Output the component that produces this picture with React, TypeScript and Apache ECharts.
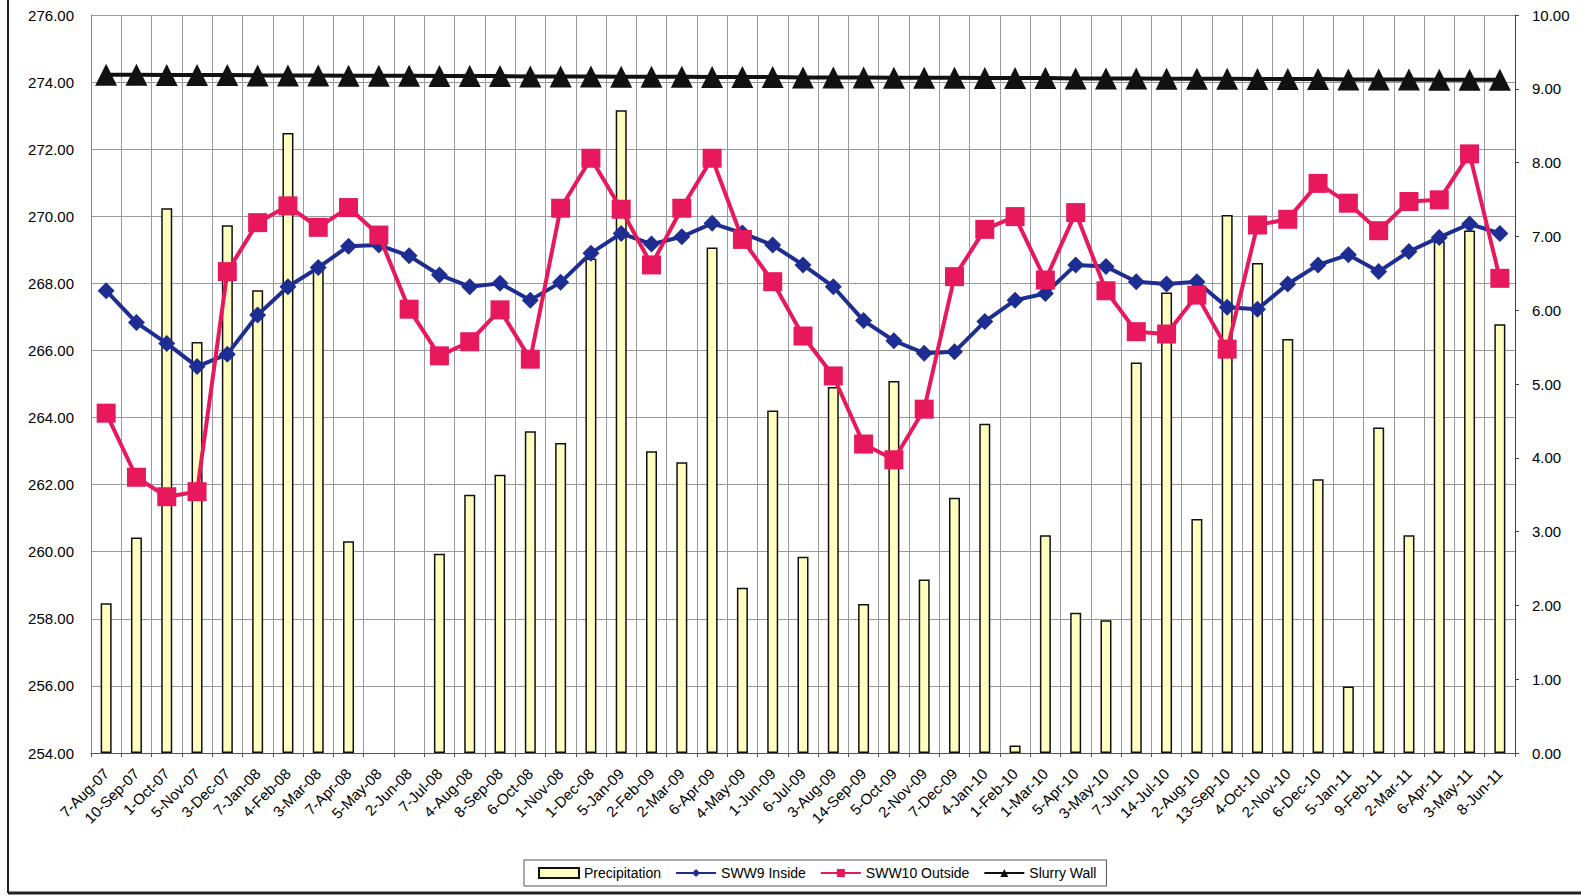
import React, { useEffect, useRef } from "react";
import * as echarts from "echarts";

const categories = [
  "7-Aug-07", "10-Sep-07", "1-Oct-07", "5-Nov-07", "3-Dec-07", "7-Jan-08", "4-Feb-08", "3-Mar-08",
  "7-Apr-08", "5-May-08", "2-Jun-08", "7-Jul-08", "4-Aug-08", "8-Sep-08", "6-Oct-08", "1-Nov-08",
  "1-Dec-08", "5-Jan-09", "2-Feb-09", "2-Mar-09", "6-Apr-09", "4-May-09", "1-Jun-09", "6-Jul-09",
  "3-Aug-09", "14-Sep-09", "5-Oct-09", "2-Nov-09", "7-Dec-09", "4-Jan-10", "1-Feb-10", "1-Mar-10",
  "5-Apr-10", "3-May-10", "7-Jun-10", "14-Jul-10", "2-Aug-10", "13-Sep-10", "4-Oct-10", "2-Nov-10",
  "6-Dec-10", "5-Jan-11", "9-Feb-11", "2-Mar-11", "6-Apr-11", "3-May-11", "8-Jun-11",
];

const precipitation = [
  2.03, 2.92, 7.38, 5.57, 7.15, 6.27, 8.4, 6.55,
  2.87, null, null, 2.7, 3.5, 3.77, 4.36, 4.2,
  6.7, 8.71, 4.09, 3.94, 6.85, 2.24, 4.64, 2.66,
  4.96, 2.02, 5.04, 2.35, 3.46, 4.46, 0.1, 2.95,
  1.9, 1.8, 5.29, 6.24, 3.17, 7.29, 6.64, 5.61,
  3.71, 0.9, 4.41, 2.95, 6.93, 7.08, 5.81,
];

const sww9Inside = [
  267.78, 266.83, 266.21, 265.52, 265.89, 267.06, 267.9, 268.47,
  269.11, 269.14, 268.82, 268.25, 267.9, 268.0, 267.5, 268.03,
  268.9, 269.49, 269.17, 269.39, 269.79, 269.5, 269.14, 268.55,
  267.9, 266.89, 266.29, 265.92, 265.96, 266.86, 267.5, 267.7,
  268.55, 268.5, 268.05, 267.98, 268.05, 267.29, 267.23, 267.98,
  268.55, 268.85, 268.35, 268.95, 269.37, 269.77, 269.49,
];

const sww10Outside = [
  264.13, 262.22, 261.64, 261.79, 268.35, 269.81, 270.31, 269.67,
  270.26, 269.44, 267.23, 265.84, 266.26, 267.21, 265.74, 270.24,
  271.73, 270.21, 268.55, 270.24, 271.73, 269.31, 268.05, 266.43,
  265.24, 263.21, 262.74, 264.25, 268.2, 269.61, 269.99, 268.1,
  270.11, 267.78, 266.56, 266.49, 267.65, 266.04, 269.74, 269.91,
  270.98, 270.39, 269.57, 270.44, 270.49, 271.86, 268.15,
];

const slurryWall = [
  274.22, 274.22, 274.21, 274.21, 274.21, 274.2, 274.2, 274.2,
  274.19, 274.19, 274.19, 274.18, 274.18, 274.18, 274.17, 274.17,
  274.17, 274.16, 274.16, 274.16, 274.15, 274.15, 274.15, 274.14,
  274.14, 274.14, 274.13, 274.13, 274.13, 274.12, 274.12, 274.12,
  274.11, 274.11, 274.11, 274.1, 274.1, 274.1, 274.09, 274.09,
  274.09, 274.08, 274.08, 274.08, 274.07, 274.07, 274.07,
];

const FONT = "'Liberation Sans', Arial, sans-serif";

export default function App() {
  const ref = useRef<HTMLDivElement>(null);

  useEffect(() => {
    if (!ref.current) return;
    const chart = echarts.init(ref.current, null, { renderer: "svg" });
    chart.setOption({
      animation: false,
      backgroundColor: "#ffffff",
      textStyle: { fontFamily: FONT },
      grid: { left: 91, right: 66, top: 15, bottom: 143, containLabel: false },
      legend: {
        left: 524,
        top: 860,
        orient: "horizontal",
        padding: [6, 10, 6, 14],
        borderColor: "#555",
        borderWidth: 1,
        itemWidth: 40,
        itemHeight: 10,
        itemGap: 14,
        textStyle: { fontSize: 14, color: "#000", fontFamily: FONT },
        data: [
          { name: "Precipitation", icon: "rect" },
          { name: "SWW9 Inside" },
          { name: "SWW10 Outside" },
          { name: "Slurry Wall" },
        ],
      },
      xAxis: {
        type: "category",
        data: categories,
        boundaryGap: true,
        axisLine: { show: true, lineStyle: { color: "#555", width: 1 } },
        axisTick: { show: true, length: 4, lineStyle: { color: "#555" }, interval: 0 },
        splitLine: { show: true, interval: 0, lineStyle: { color: "#9a9a9a", width: 1 } },
        axisLabel: {
          interval: 0,
          rotate: 45,
          margin: 18,
          fontSize: 15,
          color: "#000",
          fontFamily: FONT,
        },
      },
      yAxis: [
        {
          type: "value",
          min: 254,
          max: 276,
          interval: 2,
          position: "left",
          axisLine: { show: true, lineStyle: { color: "#888" } },
          axisTick: { show: false },
          splitLine: { show: true, lineStyle: { color: "#9a9a9a", width: 1 } },
          axisLabel: {
            formatter: (v: number) => v.toFixed(2),
            fontSize: 15,
            color: "#000",
            margin: 17,
            fontFamily: FONT,
          },
        },
        {
          type: "value",
          min: 0,
          max: 10,
          interval: 1,
          position: "right",
          axisLine: { show: true, lineStyle: { color: "#444" } },
          axisTick: { show: true, length: 4, lineStyle: { color: "#444" } },
          splitLine: { show: false },
          axisLabel: {
            formatter: (v: number) => v.toFixed(2),
            fontSize: 15,
            color: "#000",
            margin: 17,
            fontFamily: FONT,
          },
        },
      ],
      series: [
        {
          name: "Precipitation",
          type: "bar",
          yAxisIndex: 1,
          data: precipitation,
          barWidth: 11,
          itemStyle: { color: "#FFFFC0", borderColor: "#111", borderWidth: 1.5 },
          z: 1,
        },
        {
          name: "SWW9 Inside",
          type: "line",
          yAxisIndex: 0,
          data: sww9Inside,
          symbol: "diamond",
          symbolSize: 17,
          showAllSymbol: true,
          lineStyle: { color: "#1E2D92", width: 4 },
          itemStyle: { color: "#1E2D92" },
          z: 3,
        },
        {
          name: "SWW10 Outside",
          type: "line",
          yAxisIndex: 0,
          data: sww10Outside,
          symbol: "rect",
          symbolSize: 19,
          showAllSymbol: true,
          lineStyle: { color: "#E8185C", width: 4 },
          itemStyle: { color: "#E8185C" },
          z: 4,
        },
        {
          name: "Slurry Wall",
          type: "line",
          yAxisIndex: 0,
          data: slurryWall,
          symbol: "triangle",
          symbolSize: 22,
          showAllSymbol: true,
          lineStyle: { color: "#111", width: 4 },
          itemStyle: { color: "#111" },
          z: 5,
        },
      ],
      graphic: [
        { type: "line", shape: { x1: 8, y1: 0, x2: 8, y2: 893 }, style: { stroke: "#222", lineWidth: 2 } },
        { type: "line", shape: { x1: 8, y1: 893, x2: 1581, y2: 893 }, style: { stroke: "#222", lineWidth: 3 } },
      ],
    });
    return () => chart.dispose();
  }, []);

  return (
    <div
      ref={ref}
      style={{ position: "fixed", left: 0, top: 0, width: 1581, height: 896, background: "#fff" }}
    />
  );
}
